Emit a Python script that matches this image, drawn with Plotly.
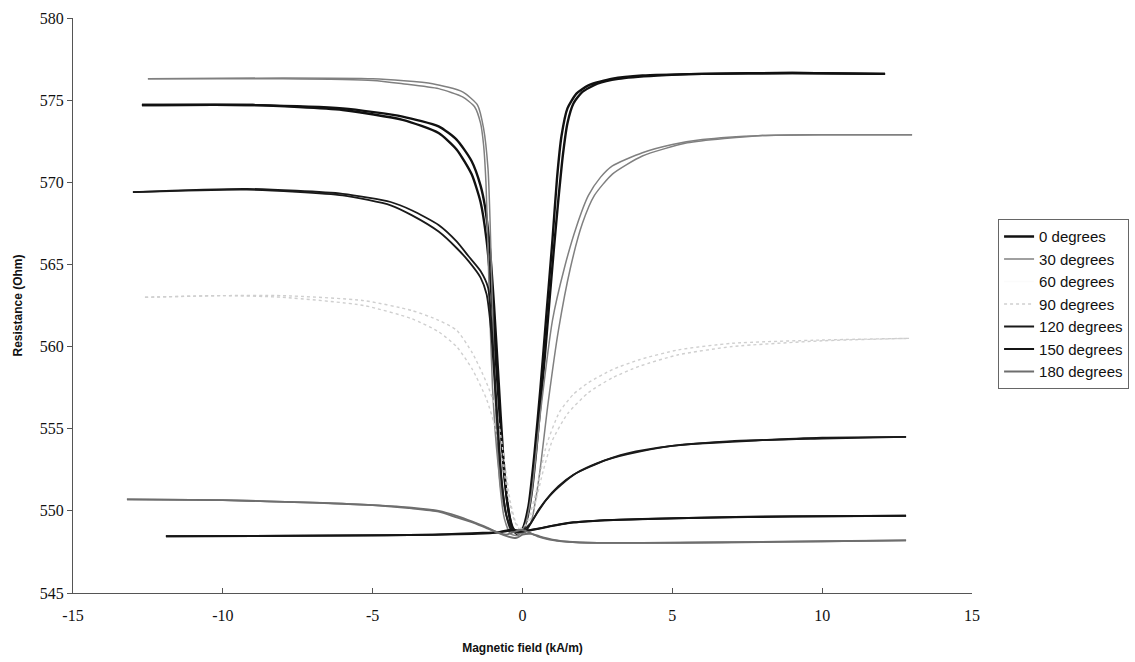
import plotly.graph_objects as go

# Magnetoresistance sweeps at several field angles.
# Each angle has two field sweeps (a: high -> low field, b: low -> high field).
# Field in kA/m, resistance in Ohm.

h0a = [12.1, 9, 6, 4, 3, 2.2, 1.8, 1.5, 1.3, 1.15, 1.0, 0.8, 0.6, 0.4, 0.2, 0.0, -0.2, -0.35, -0.5, -0.65,
       -0.8, -0.95, -1.1, -1.25, -1.4, -1.7, -2.2, -2.8, -4, -6, -9, -12.7]
r0a = [576.6, 576.65, 576.6, 576.5, 576.3, 575.9, 575.4, 574.5, 572.8, 570.2, 566.5, 562.0, 557.5, 553.5, 550.3,
       548.9, 548.6, 549.0, 550.5, 553.5, 558.0, 562.5, 566.2, 568.5, 569.8, 571.3, 572.6, 573.4, 574.0, 574.5,
       574.7, 574.7]
h0b = [-12.7, -9, -6, -4, -2.8, -2.2, -1.7, -1.4, -1.2, -1.05, -0.9, -0.75, -0.6, -0.45, -0.3, -0.15, 0.0, 0.15,
       0.3, 0.45, 0.6, 0.75, 0.9, 1.05, 1.2, 1.35, 1.5, 1.7, 2.0, 2.5, 3.2, 4.5, 6, 9, 12.1]
r0b = [574.7, 574.7, 574.4, 573.8, 573.0, 572.0, 570.5, 568.8, 566.5, 563.5, 559.5, 555.5, 552.0, 549.8, 548.9,
       548.7, 548.8, 549.5, 551.0, 553.5, 556.5, 559.5, 562.8, 566.0, 569.0, 571.7, 573.6, 574.8, 575.5, 576.0,
       576.3, 576.5, 576.6, 576.65, 576.6]

h30a = [13, 10, 8, 6, 5, 4, 3, 2.6, 2.2, 1.8, 1.4, 1.0, 0.6, 0.3, 0.1, -0.15, -0.4, -0.6, -0.75, -0.85, -0.95,
        -1.02, -1.08, -1.15, -1.3, -1.5, -2.0, -3.0, -5, -8, -12.5]
r30a = [572.9, 572.9, 572.85, 572.6, 572.3, 571.8, 571.0, 570.3, 569.2, 567.3, 564.8, 561.6, 556.0, 551.0, 549.2,
        548.5, 548.6, 549.5, 551.5, 554.5, 559.0, 563.5, 567.5, 570.8, 573.3, 574.7, 575.5, 576.0, 576.3, 576.35,
        576.3]
h30b = [-12.5, -8, -5, -4, -2.8, -2.0, -1.6, -1.4, -1.3, -1.22, -1.16, -1.1, -1.0, -0.85, -0.65, -0.4, -0.15,
        0.1, 0.3, 0.55, 0.85, 1.2, 1.6, 2.0, 2.4, 3.0, 4.0, 5.5, 8, 10, 13]
r30b = [576.3, 576.3, 576.2, 576.0, 575.7, 575.2, 574.6, 573.6, 572.3, 570.0, 566.5, 562.5, 557.5, 553.5, 550.5,
        549.0, 548.6, 548.7, 549.4, 552.0, 556.5, 561.0, 564.8, 567.5, 569.2, 570.5, 571.6, 572.4, 572.85, 572.9,
        572.9]

# the 60 degree run is drawn in white and does not show against the background
h60a = [None]
r60a = [None]

h90a = [12.9, 10, 7, 5.2, 3.9, 3.0, 2.2, 1.7, 1.23, 0.8, 0.5, 0.2, 0.0, -0.2, -0.4, -0.6, -0.87, -1.2, -1.67,
        -2.2, -2.8, -3.7, -5.3, -8, -10, -12.6]
r90a = [560.5, 560.4, 560.2, 559.8, 559.2, 558.6, 557.8, 557.1, 556.0, 554.0, 551.5, 549.5, 548.9, 549.2, 550.5,
        553.0, 556.1, 557.8, 559.6, 561.0, 561.6, 562.2, 562.8, 563.1, 563.1, 563.0]
h90b = [-12.6, -10, -8, -5.3, -3.7, -2.8, -2.2, -1.67, -1.2, -0.9, -0.65, -0.45, -0.25, -0.05, 0.15, 0.4, 0.7,
        1.0, 1.5, 2.2, 3.0, 3.9, 5.2, 7, 10, 12.9]
r90b = [563.0, 563.1, 563.0, 562.5, 561.7, 560.9, 560.0, 558.6, 556.8, 555.0, 552.8, 550.6, 549.3, 548.8, 549.0,
        550.3, 552.5, 554.3, 555.9, 557.2, 558.1, 558.8, 559.5, 560.0, 560.35, 560.5]

h120a = [12.8, 10, 8, 5.2, 3.9, 2.8, 1.7, 1.2, 0.8, 0.5, 0.25, 0.0, -0.2, -0.4, -0.55, -0.7, -0.83, -0.95, -1.05,
         -1.15, -1.4, -1.8, -2.2, -2.8, -3.7, -4.4, -6, -9.2, -13]
r120a = [554.5, 554.45, 554.3, 554.0, 553.6, 553.1, 552.2, 551.5, 550.7, 549.9, 549.2, 548.8, 548.7, 548.9, 549.8,
         552.0, 555.5, 559.0, 561.8, 563.6, 564.6, 565.5, 566.4, 567.4, 568.3, 568.8, 569.3, 569.6, 569.4]
h120b = [-13, -9.2, -6, -4.4, -3.7, -2.8, -2.2, -1.8, -1.4, -1.2, -1.05, -0.92, -0.78, -0.65, -0.5, -0.3, -0.1,
         0.1, 0.3, 0.55, 0.9, 1.3, 1.8, 2.5, 3.5, 5, 7, 10, 12.8]
r120b = [569.4, 569.55, 569.2, 568.6, 568.0, 567.0, 566.0, 565.2, 564.2, 563.2, 561.0, 557.5, 553.5, 551.0, 549.5,
         548.8, 548.7, 548.8, 549.3, 550.1, 550.9, 551.6, 552.3, 552.9, 553.5, 553.95, 554.25, 554.4, 554.5]

h150a = [12.8, 8, 5.2, 3, 1.7, 1.0, 0.6, 0.3, 0.0, -0.3, -0.8, -1.5, -3, -6, -11.9]
r150a = [549.7, 549.65, 549.55, 549.45, 549.3, 549.1, 548.95, 548.85, 548.75, 548.8, 548.7, 548.65, 548.55, 548.5,
         548.45]
h150b = [-11.9, -6, -3, -1.5, -0.8, -0.4, -0.1, 0.2, 0.5, 0.9, 1.5, 2.5, 4, 6, 9, 12.8]
r150b = [548.45, 548.5, 548.55, 548.6, 548.7, 548.85, 548.8, 548.8, 548.9, 549.05, 549.25, 549.4, 549.5, 549.58,
         549.65, 549.7]

h180a = [12.8, 8, 5.2, 3, 1.67, 1.0, 0.57, 0.3, 0.0, -0.2, -0.5, -0.87, -1.2, -1.67, -2.2, -2.8, -3.7, -5, -7, -10,
         -13.2]
r180a = [548.2, 548.1, 548.05, 548.05, 548.1, 548.25, 548.45, 548.6, 548.55, 548.35, 548.45, 548.7, 549.0, 549.35,
         549.7, 550.0, 550.2, 550.35, 550.5, 550.65, 550.7]
h180b = [-13.2, -10, -7, -5, -3.7, -2.8, -2.2, -1.67, -1.2, -0.85, -0.55, -0.3, -0.05, 0.2, 0.5, 0.9, 1.5, 2.5, 4,
         7, 10, 12.8]
r180b = [550.7, 550.65, 550.5, 550.35, 550.15, 549.95, 549.6, 549.3, 548.95, 548.7, 548.55, 548.7, 548.85, 548.7,
         548.45, 548.25, 548.12, 548.05, 548.05, 548.1, 548.15, 548.2]

series_names = ["0 degrees", "30 degrees", "60 degrees", "90 degrees", "120 degrees", "150 degrees", "180 degrees"]
sweeps = [
    [(h0a, r0a), (h0b, r0b)],
    [(h30a, r30a), (h30b, r30b)],
    [(h60a, r60a)],
    [(h90a, r90a), (h90b, r90b)],
    [(h120a, r120a), (h120b, r120b)],
    [(h150a, r150a), (h150b, r150b)],
    [(h180a, r180a), (h180b, r180b)],
]
line_styles = [
    dict(color="#111111", width=2.4),
    dict(color="#808080", width=1.5),
    dict(color="#fbfbfb", width=1.5),
    dict(color="#cfcfcf", width=1.4, dash="dot"),
    dict(color="#1a1a1a", width=1.8),
    dict(color="#151515", width=2.0),
    dict(color="#6e6e6e", width=1.8),
]

x_ticks = [-15, -10, -5, 0, 5, 10, 15]
y_ticks = [545, 550, 555, 560, 565, 570, 575, 580]

fig = go.Figure()
for name, runs, style in zip(series_names, sweeps, line_styles):
    for i, (h, r) in enumerate(runs):
        fig.add_trace(go.Scatter(
            x=h, y=r, mode="lines", name=name, legendgroup=name,
            showlegend=(i == 0), line=dict(shape="spline", smoothing=0.6, **style),
        ))

tick_font = dict(family="Liberation Serif, Times New Roman, serif", size=16, color="#111111")
title_font = dict(family="Liberation Sans, Arial, sans-serif", size=12, color="#111111", weight="bold")

fig.update_layout(
    width=1135, height=662,
    margin=dict(l=73, r=163, t=18, b=69, autoexpand=False),
    paper_bgcolor="white", plot_bgcolor="white",
    showlegend=True,
    legend=dict(
        x=1.029, y=0.65, xanchor="left", yanchor="top",
        bordercolor="#666666", borderwidth=1, bgcolor="white",
        font=dict(family="Liberation Sans, Arial, sans-serif", size=15, color="#111111"),
        tracegroupgap=0,
    ),
    xaxis=dict(
        range=[-15, 15], tickvals=x_ticks, ticktext=[str(v) for v in x_ticks],
        showgrid=False, zeroline=False, showline=True, linecolor="#555555", linewidth=1,
        ticks="inside", ticklen=5, tickcolor="#555555", tickfont=tick_font, ticklabelstandoff=8,
        title=dict(text="Magnetic field (kA/m)", font=title_font, standoff=20),
    ),
    yaxis=dict(
        range=[545, 580], tickvals=y_ticks, ticktext=[str(v) for v in y_ticks],
        showgrid=False, zeroline=False, showline=True, linecolor="#555555", linewidth=1,
        ticks="outside", ticklen=5, tickcolor="#555555", tickfont=tick_font,
        title=dict(text="Resistance (Ohm)", font=title_font, standoff=14),
    ),
)

fig.write_html("out.html")
